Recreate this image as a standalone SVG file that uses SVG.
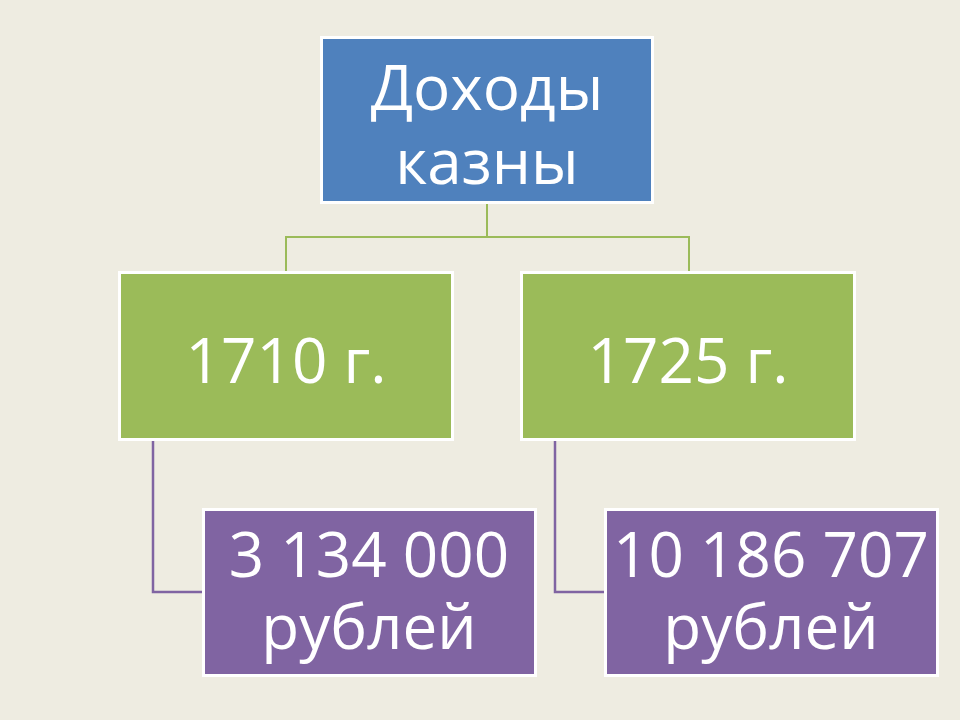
<svg xmlns="http://www.w3.org/2000/svg" width="960" height="720" viewBox="0 0 960 720">
<style>
.box{stroke:#FFFFFF;stroke-width:3}
.blue{fill:#4F81BD}
.green{fill:#9BBB59}
.purple{fill:#8064A2}
.t{font-family:"Open Sans","Noto Sans","DejaVu Sans",sans-serif;font-size:62px;fill:#FFFFFF;text-anchor:middle}
.cg{fill:none;stroke:#9BBB59;stroke-width:2}
.cp{fill:none;stroke:#8064A2;stroke-width:2.5}
</style>
<rect width="960" height="720" fill="#EEECE1"/>
<g id="connectors">
<path class="cg" d="M487,204 V237 M286,237 H689 M286,236 V271 M689,236 V271"/>
<path class="cp" d="M153,440 V592 H203"/>
<path class="cp" d="M555,440 V592 H605"/>
</g>
<g id="node-income">
<rect class="box blue" x="321.5" y="37.5" width="331" height="165"/>
<text class="t" x="487" y="110">Доходы<tspan x="487" y="184">казны</tspan></text>
</g>
<g id="node-1710">
<rect class="box green" x="119.5" y="272.5" width="333" height="167"/>
<text class="t" x="286" y="383">1710 г.</text>
</g>
<g id="node-1725">
<rect class="box green" x="521.5" y="272.5" width="333" height="167"/>
<text class="t" x="688" y="383">1725 г.</text>
</g>
<g id="node-1710-sum">
<rect class="box purple" x="203.5" y="509.5" width="332" height="166"/>
<text class="t" x="369" y="577">3 134 000<tspan x="369" y="649">рублей</tspan></text>
</g>
<g id="node-1725-sum">
<rect class="box purple" x="605.5" y="509.5" width="332" height="166"/>
<text class="t" x="771" y="577">10 186 707<tspan x="771" y="649">рублей</tspan></text>
</g>
</svg>
